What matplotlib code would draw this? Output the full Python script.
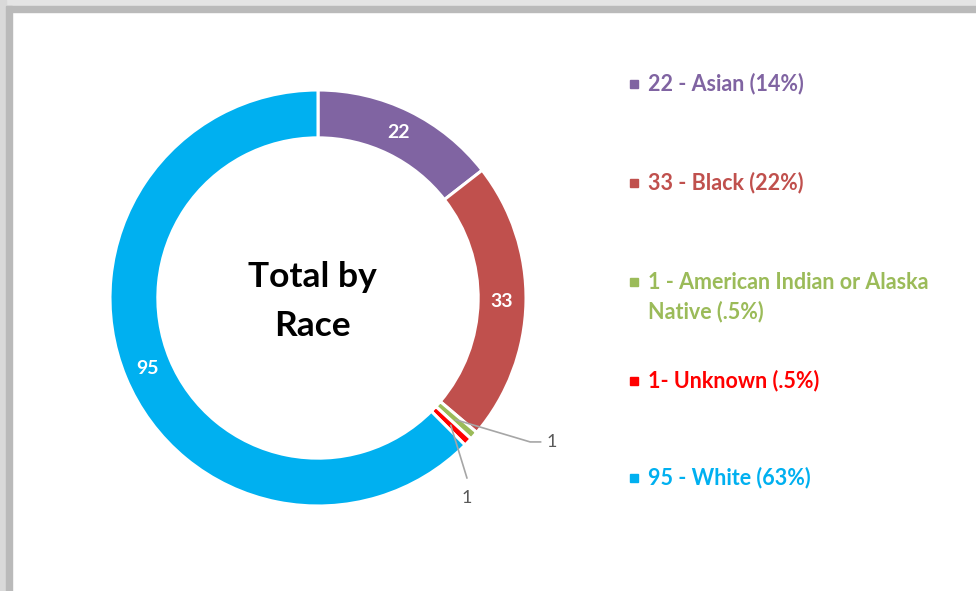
import matplotlib.pyplot as plt
from matplotlib.patches import Rectangle
import numpy as np

plt.rcParams['font.family'] = ['Lato', 'DejaVu Sans']

races = ['Asian', 'Black', 'American Indian or Alaska Native', 'Unknown', 'White']
counts = [22, 33, 1, 1, 95]
legend_labels = ['22 - Asian (14%)', '33 - Black (22%)',
                 '1 - American Indian or Alaska\nNative (.5%)',
                 '1- Unknown (.5%)', '95 - White (63%)']
colors = ['#8064A2', '#C0504D', '#9BBB59', '#FF0000', '#00B0F0']

W, H = 976, 591
fig = plt.figure(figsize=(W / 100, H / 100), dpi=100)

# shadow frame (top and left)
fig.patches.append(Rectangle((0, 1 - 6 / H), 1, 6 / H, transform=fig.transFigure,
                             color='#e4e4e4', zorder=0))
fig.patches.append(Rectangle((6 / W, 1 - 12 / H), 1, 6 / H, transform=fig.transFigure,
                             color='#bababa', zorder=0))
fig.patches.append(Rectangle((0, 0), 6 / W, 1, transform=fig.transFigure,
                             color='#d9d9d9', zorder=0))
fig.patches.append(Rectangle((6 / W, 0), 6 / W, 1 - 6 / H, transform=fig.transFigure,
                             color='#bababa', zorder=0))

# donut: center (318, 298) px, radius 208 px
cx, cy, R = 318, 298, 208
ax = fig.add_axes([(cx - R) / W, (H - cy - R) / H, 2 * R / W, 2 * R / H])
wedges, _ = ax.pie(counts, colors=colors, startangle=90, counterclock=False,
                   wedgeprops=dict(width=0.23, edgecolor='white', linewidth=2.2))
ax.set_xlim(-1, 1)
ax.set_ylim(-1, 1)
ax.set_aspect('equal')
ax.axis('off')

mid_r = 1 - 0.23 / 2
for w, n in zip(wedges, counts):
    ang = np.deg2rad((w.theta1 + w.theta2) / 2)
    x, y = mid_r * np.cos(ang), mid_r * np.sin(ang)
    if n > 5:
        ax.text(x, y, str(n), color='white', fontsize=14, fontweight='bold',
                ha='center', va='center')

# leader lines for the two tiny slices
grey = '#a6a6a6'
w = wedges[2]
ang = np.deg2rad((w.theta1 + w.theta2) / 2)
x0, y0 = mid_r * np.cos(ang), mid_r * np.sin(ang)
ax.plot([x0, 1.02, 1.07], [y0, -0.692, -0.692], color=grey, lw=1.2, clip_on=False)
ax.text(1.1, -0.692, str(counts[2]), color='#595959', fontsize=13,
        ha='left', va='center')

w = wedges[3]
ang = np.deg2rad((w.theta1 + w.theta2) / 2)
x0, y0 = mid_r * np.cos(ang), mid_r * np.sin(ang)
ax.plot([x0, 0.716], [y0, -0.865], color=grey, lw=1.2, clip_on=False)
ax.text(0.716, -0.96, str(counts[3]), color='#595959', fontsize=13,
        ha='center', va='center')

ax.text(-0.025, -0.015, 'Total by\nRace', ha='center', va='center', fontsize=25.5,
        fontweight='bold', color='black', linespacing=1.65)

# legend
leg_y = [84, 183, 282, 381, 478]
for lab, col, yy in zip(legend_labels, colors, leg_y):
    fig.patches.append(Rectangle((630 / W, 1 - (yy + 4) / H), 8 / W, 8 / H,
                                 transform=fig.transFigure, color=col))
    ty = yy + 15 if '\n' in lab else yy
    fig.text(648 / W, 1 - ty / H, lab, color=col, fontsize=15.5, fontweight='bold',
             ha='left', va='center', linespacing=1.4)

plt.savefig('out.png', dpi=100)
